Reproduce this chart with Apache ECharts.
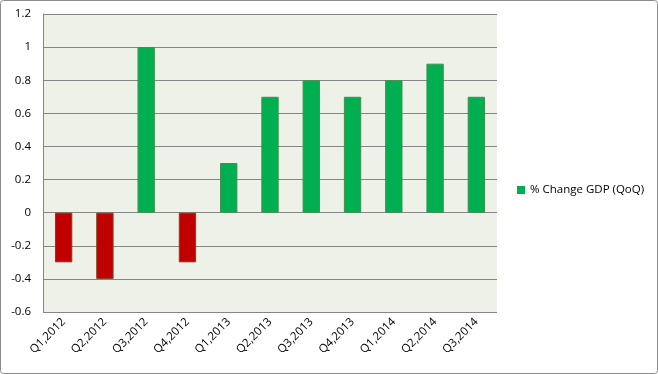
<!DOCTYPE html>
<html><head><meta charset="utf-8">
<script src="https://cdn.jsdelivr.net/npm/echarts@6/dist/echarts.min.js"></script>
<style>html,body{margin:0;padding:0;background:#fff}#c{width:658px;height:374px}</style>
</head><body><div id="c"></div>
<script>
const categories = ['Q1,2012','Q2,2012','Q3,2012','Q4,2012','Q1,2013','Q2,2013','Q3,2013','Q4,2013','Q1,2014','Q2,2014','Q3,2014'];
const gdpChange = [-0.3, -0.4, 1.0, -0.3, 0.3, 0.7, 0.8, 0.7, 0.8, 0.9, 0.7];
const yTicks = {min: -0.6, max: 1.2, interval: 0.2};
const seriesName = '% Change GDP (QoQ)';

const green = '#00b050', red = '#c00000';
const font = 'Open Sans';
const chart = echarts.init(document.getElementById('c'), null, {renderer: 'canvas'});
chart.setOption({
  animation: false,
  backgroundColor: '#fff',
  graphic: [{type: 'rect', shape: {x: 0.5, y: 0.5, width: 657, height: 373, r: 3}, style: {fill: null, stroke: '#8c8c8c', lineWidth: 1}, z: 100}],
  grid: {left: 43, top: 14, right: 161, bottom: 62, containLabel: false, show: true, backgroundColor: '#eef1e7', borderWidth: 0},
  legend: {
    left: 512, top: 179, orient: 'vertical', itemWidth: 8, itemHeight: 8, itemGap: 4,
    icon: 'rect',
    textStyle: {fontFamily: font, fontSize: 11.5, color: '#000'},
    data: [{name: seriesName, itemStyle: {color: green, borderWidth: 0}}]
  },
  xAxis: {
    type: 'category', data: categories,
    axisLine: {show: false}, axisTick: {show: false},
    axisLabel: {rotate: 45, interval: 0, margin: 8, fontFamily: font, fontSize: 11.5, color: '#000'}
  },
  yAxis: {
    type: 'value', min: yTicks.min, max: yTicks.max, interval: yTicks.interval,
    axisLine: {show: true, lineStyle: {color: '#868686'}}, axisTick: {show: false},
    splitLine: {lineStyle: {color: '#868686', width: 1}},
    axisLabel: {margin: 12, fontFamily: font, fontSize: 11.5, color: '#000',
      formatter: v => String(Math.round(v * 10) / 10)}
  },
  series: [{
    name: seriesName, type: 'bar', barWidth: '42%',
    data: gdpChange.map(v => ({value: v, itemStyle: {color: v < 0 ? red : green, borderColor: v < 0 ? '#7f3f1f' : '#3f8f4f', borderWidth: 1}})),
    itemStyle: {color: green}
  }]
});
</script></body></html>
